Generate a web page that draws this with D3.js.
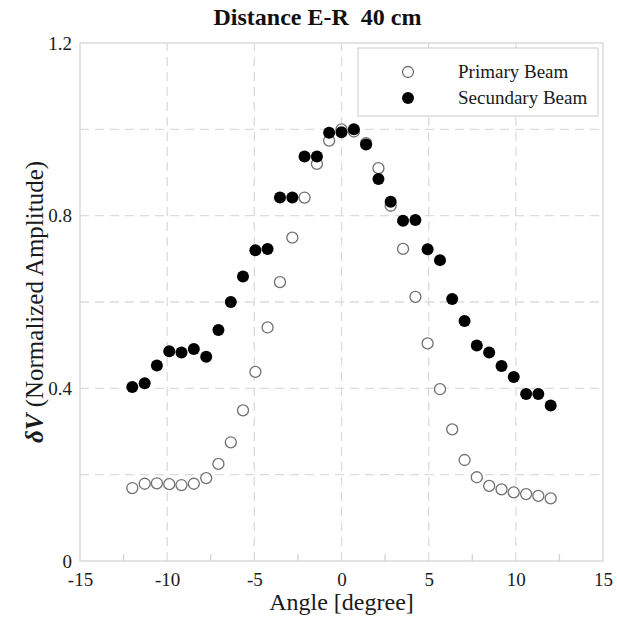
<!DOCTYPE html>
<html>
<head>
<meta charset="utf-8">
<script src="https://cdn.jsdelivr.net/npm/d3@7"></script>
<style>
  html, body { margin: 0; padding: 0; background: #fff; }
  svg { display: block; font-family: "Liberation Serif", "Times New Roman", serif; }
</style>
</head>
<body>
<svg id="chart" width="617" height="620"></svg>
<script>
// Scan angles (degrees)
const angles = [-12, -11.29, -10.59, -9.88, -9.18, -8.47, -7.76, -7.06, -6.35, -5.65,
  -4.94, -4.24, -3.53, -2.82, -2.12, -1.41, -0.71, 0, 0.71, 1.41,
  2.12, 2.82, 3.53, 4.24, 4.94, 5.65, 6.35, 7.06, 7.76, 8.47,
  9.18, 9.88, 10.59, 11.29, 12];

// Normalized amplitude, primary beam
const primaryBeam = [0.169, 0.179, 0.180, 0.178, 0.176, 0.179, 0.192, 0.225, 0.275, 0.349,
  0.438, 0.541, 0.646, 0.749, 0.842, 0.920, 0.974, 1.000, 0.995, 0.968,
  0.910, 0.823, 0.723, 0.612, 0.504, 0.398, 0.305, 0.234, 0.194, 0.174,
  0.166, 0.159, 0.155, 0.151, 0.145];

// Normalized amplitude, secondary beam
const secundaryBeam = [0.403, 0.412, 0.453, 0.486, 0.483, 0.491, 0.473, 0.535, 0.600, 0.659,
  0.720, 0.723, 0.842, 0.842, 0.937, 0.937, 0.992, 0.993, 1.000, 0.965,
  0.885, 0.832, 0.788, 0.790, 0.722, 0.697, 0.607, 0.556, 0.499, 0.483,
  0.452, 0.426, 0.387, 0.387, 0.360];

const xTicks = [-15, -10, -5, 0, 5, 10, 15];
const xMinorTicks = [-12.5, -7.5, -2.5, 2.5, 7.5, 12.5];
const yTicks = [0, 0.4, 0.8, 1.2];
const yGrid = [0.2, 0.4, 0.6, 0.8, 1.0];
const legendLabels = ["Primary Beam", "Secundary Beam"];

const margin = { left: 80, right: 14, top: 43, bottom: 59 };
const W = 617, H = 620;
const svg = d3.select("#chart");

const x = d3.scaleLinear().domain([-15, 15]).range([margin.left, W - margin.right]);
const y = d3.scaleLinear().domain([0, 1.2]).range([H - margin.bottom, margin.top]);

const frameColor = "#d4d4d4";
const gridColor = "#dcdcdc";
const textColor = "#1a1a1a";

// dashed grid
const g = svg.append("g");
g.selectAll(".vg").data(xTicks.slice(1, -1)).join("line")
  .attr("x1", d => x(d)).attr("x2", d => x(d))
  .attr("y1", y(0)).attr("y2", y(1.2))
  .attr("stroke", gridColor).attr("stroke-width", 1.3).attr("stroke-dasharray", "9,6");
g.selectAll(".hg").data(yGrid).join("line")
  .attr("x1", x(-15)).attr("x2", x(15))
  .attr("y1", d => y(d)).attr("y2", d => y(d))
  .attr("stroke", gridColor).attr("stroke-width", 1.3).attr("stroke-dasharray", "9,6");

// plot frame
svg.append("rect")
  .attr("x", x(-15)).attr("y", y(1.2))
  .attr("width", x(15) - x(-15)).attr("height", y(0) - y(1.2))
  .attr("fill", "none").attr("stroke", frameColor).attr("stroke-width", 1.3);

// bottom axis (plain hyphen for negative labels)
const xAxis = svg.append("g").attr("transform", `translate(0,${y(0)})`)
  .call(d3.axisBottom(x).tickValues(xTicks).tickSize(0).tickPadding(12)
    .tickFormat(d => String(d)));
xAxis.select(".domain").remove();
xAxis.selectAll("text").attr("font-size", 19).attr("fill", textColor)
  .attr("font-family", "Liberation Serif, serif");

// minor ticks, pointing inward
svg.selectAll(".mt").data(xMinorTicks).join("line")
  .attr("x1", d => x(d)).attr("x2", d => x(d))
  .attr("y1", y(0)).attr("y2", y(0) - 7)
  .attr("stroke", frameColor).attr("stroke-width", 1.3);

// left axis
const yAxis = svg.append("g").attr("transform", `translate(${x(-15)},0)`)
  .call(d3.axisLeft(y).tickValues(yTicks).tickSize(0).tickPadding(8)
    .tickFormat(d => d === 0 ? "0" : d3.format(".1f")(d)));
yAxis.select(".domain").remove();
yAxis.selectAll("text").attr("font-size", 19).attr("fill", textColor)
  .attr("font-family", "Liberation Serif, serif");

// title
svg.append("text").attr("x", 317.5).attr("y", 25).attr("text-anchor", "middle")
  .attr("font-size", 24).attr("font-weight", "bold").attr("fill", "#111")
  .attr("xml:space", "preserve")
  .text("Distance E-R  40 cm");

// axis titles
svg.append("text").attr("x", x(0)).attr("y", 610).attr("text-anchor", "middle")
  .attr("font-size", 24).attr("fill", textColor).text("Angle [degree]");

const yl = svg.append("text")
  .attr("transform", `translate(43,${(y(0) + y(1.2)) / 2}) rotate(-90)`)
  .attr("text-anchor", "middle").attr("font-size", 25).attr("fill", textColor);
yl.append("tspan").attr("font-style", "italic").attr("font-weight", "bold").text("δV");
yl.append("tspan").text(" (Normalized Amplitude)");

// data points
const rows = angles.map((a, i) => ({ a, p: primaryBeam[i], s: secundaryBeam[i] }));

svg.append("g").selectAll("circle").data(rows).join("circle")
  .attr("cx", d => x(d.a)).attr("cy", d => y(d.p)).attr("r", 5.5)
  .attr("fill", "#fff").attr("stroke", "#707070").attr("stroke-width", 1.3);

svg.append("g").selectAll("circle").data(rows).join("circle")
  .attr("cx", d => x(d.a)).attr("cy", d => y(d.s)).attr("r", 6)
  .attr("fill", "#000");

// legend
const lg = svg.append("g");
lg.append("rect").attr("x", 358).attr("y", 48).attr("width", 240).attr("height", 68)
  .attr("fill", "#fff").attr("stroke", frameColor).attr("stroke-width", 1.2);
lg.selectAll(".lm").data(legendLabels).join("circle")
  .attr("cx", 408).attr("cy", (d, i) => 72 + i * 26)
  .attr("r", (d, i) => i === 0 ? 5.5 : 6)
  .attr("fill", (d, i) => i === 0 ? "#fff" : "#000")
  .attr("stroke", (d, i) => i === 0 ? "#707070" : "none")
  .attr("stroke-width", 1.3);
lg.selectAll(".lt").data(legendLabels).join("text")
  .attr("x", 458).attr("y", (d, i) => 78 + i * 26)
  .attr("font-size", 19).attr("fill", textColor).text(d => d);
</script>
</body>
</html>
